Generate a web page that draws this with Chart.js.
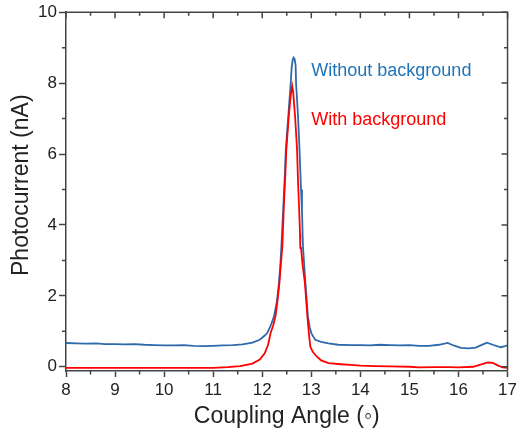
<!DOCTYPE html>
<html>
<head>
<meta charset="utf-8">
<script src="https://cdn.jsdelivr.net/npm/chart.js@4/dist/chart.umd.min.js"></script>
<style>
  html, body { margin: 0; padding: 0; background: #ffffff; }
  canvas { display: block; }
</style>
</head>
<body>
<canvas id="c" width="520" height="431"></canvas>
<script>
// ---- data ----
const blueX = [8.0, 8.2, 8.4, 8.6, 8.8, 9.0, 9.2, 9.4, 9.6, 9.8, 10.0, 10.2, 10.4, 10.6, 10.8, 11.0, 11.2, 11.4, 11.6, 11.8, 11.95, 12.05, 12.10, 12.17, 12.24, 12.30, 12.34, 12.37, 12.39, 12.43, 12.46, 12.48, 12.53, 12.58, 12.60, 12.62, 12.64, 12.66, 12.68, 12.69, 12.73, 12.76, 12.79, 12.81, 12.83, 12.88, 12.93, 12.97, 13.00, 13.04, 13.08, 13.2, 13.35, 13.55, 13.8, 14.0, 14.2, 14.4, 14.6, 14.8, 15.0, 15.2, 15.4, 15.6, 15.78, 15.9, 16.05, 16.2, 16.35, 16.5, 16.58, 16.7, 16.86, 16.95, 17.0];
const blueY = [0.67, 0.66, 0.65, 0.66, 0.64, 0.64, 0.63, 0.64, 0.62, 0.61, 0.60, 0.60, 0.61, 0.59, 0.58, 0.59, 0.60, 0.61, 0.63, 0.68, 0.76, 0.88, 0.95, 1.15, 1.42, 1.85, 2.36, 2.9, 3.39, 4.52, 5.4, 6.11, 7.05, 7.99, 8.45, 8.65, 8.72, 8.68, 8.5, 7.99, 7.05, 6.11, 5.0, 4.4, 3.39, 2.36, 1.42, 1.1, 0.95, 0.85, 0.76, 0.70, 0.66, 0.62, 0.61, 0.61, 0.60, 0.62, 0.61, 0.60, 0.61, 0.59, 0.59, 0.62, 0.67, 0.60, 0.53, 0.52, 0.54, 0.63, 0.68, 0.62, 0.55, 0.58, 0.60];
const redX = [8.0, 8.5, 9.0, 9.5, 10.0, 10.5, 11.0, 11.3, 11.55, 11.8, 11.95, 12.05, 12.12, 12.17, 12.22, 12.27, 12.31, 12.35, 12.38, 12.41, 12.44, 12.47, 12.49, 12.54, 12.58, 12.61, 12.63, 12.67, 12.71, 12.73, 12.75, 12.77, 12.775, 12.79, 12.82, 12.87, 12.92, 12.95, 12.98, 13.03, 13.11, 13.2, 13.35, 13.6, 13.8, 14.0, 14.3, 14.6, 15.0, 15.2, 15.5, 15.8, 16.0, 16.3, 16.45, 16.6, 16.7, 16.8, 16.9, 17.0];
const redY = [-0.03, -0.03, -0.03, -0.03, -0.03, -0.03, -0.03, -0.01, 0.02, 0.09, 0.2, 0.38, 0.62, 0.95, 1.15, 1.42, 1.85, 2.36, 2.9, 3.39, 4.52, 5.4, 6.11, 7.05, 7.65, 7.92, 7.75, 7.05, 6.11, 5.2, 4.52, 3.75, 3.35, 3.35, 2.9, 2.36, 1.42, 0.95, 0.57, 0.42, 0.29, 0.18, 0.10, 0.07, 0.05, 0.03, 0.02, 0.01, 0.0, -0.02, -0.01, -0.01, -0.02, 0.0, 0.06, 0.12, 0.11, 0.04, -0.02, -0.03];

const xTicks = [8, 9, 10, 11, 12, 13, 14, 15, 16, 17];
const xMinor = [8.5, 9.5, 10.5, 11.5, 12.5, 13.5, 14.5, 15.5, 16.5];
const yTicks = [0, 2, 4, 6, 8, 10];
const yMinor = [1, 3, 5, 7, 9];

const seriesNames = ['With background', 'Without background'];
const labelPos = [[13.0, 6.81], [13.0, 8.19]]; // data coords of the text labels

const RED = '#ff0000';
const BLUE = '#2e69ab';
const BLUE_TEXT = '#1f74b9';
const AXIS = '#444444';
const FONT = "'Liberation Sans', Arial, sans-serif";

const toPts = (xs, ys) => xs.map((x, i) => ({ x: x, y: ys[i] }));

const framePlugin = {
  id: 'frame',
  afterDatasetsDraw(chart) {
    const { ctx, chartArea: a, scales: { x, y } } = chart;
    ctx.save();
    ctx.strokeStyle = AXIS;
    ctx.lineWidth = 1.5;
    // top and right frame lines
    ctx.beginPath();
    ctx.moveTo(a.left, a.top); ctx.lineTo(a.right, a.top); ctx.lineTo(a.right, a.bottom);
    ctx.stroke();
    const MAJ = 6, MIN = 3.5;
    ctx.beginPath();
    // top inward ticks
    xTicks.forEach(v => { const p = x.getPixelForValue(v); ctx.moveTo(p, a.top); ctx.lineTo(p, a.top + MAJ); });
    xMinor.forEach(v => { const p = x.getPixelForValue(v); ctx.moveTo(p, a.top); ctx.lineTo(p, a.top + MIN); });
    // right inward ticks
    yTicks.forEach(v => { const p = y.getPixelForValue(v); ctx.moveTo(a.right, p); ctx.lineTo(a.right - MAJ, p); });
    yMinor.forEach(v => { const p = y.getPixelForValue(v); ctx.moveTo(a.right, p); ctx.lineTo(a.right - MIN, p); });
    // bottom & left outward minor ticks
    xMinor.forEach(v => { const p = x.getPixelForValue(v); ctx.moveTo(p, a.bottom); ctx.lineTo(p, a.bottom + MIN); });
    yMinor.forEach(v => { const p = y.getPixelForValue(v); ctx.moveTo(a.left, p); ctx.lineTo(a.left - 4, p); });
    ctx.stroke();
    // series labels
    ctx.font = '18px ' + FONT;
    ctx.textBaseline = 'alphabetic';
    ctx.textAlign = 'left';
    [RED, BLUE_TEXT].forEach((c, i) => {
      ctx.fillStyle = c;
      ctx.fillText(seriesNames[i], x.getPixelForValue(labelPos[i][0]), y.getPixelForValue(labelPos[i][1]));
    });
    ctx.restore();
  }
};

new Chart(document.getElementById('c'), {
  type: 'line',
  data: {
    datasets: [
      { label: seriesNames[0], data: toPts(redX, redY), borderColor: RED, borderWidth: 1.8 },
      { label: seriesNames[1], data: toPts(blueX, blueY), borderColor: BLUE, borderWidth: 1.8 }
    ]
  },
  options: {
    responsive: false,
    animation: false,
    devicePixelRatio: 1,
    layout: { padding: { left: 0, right: 10, top: 11, bottom: 0 } },
    elements: { point: { radius: 0 }, line: { tension: 0, fill: false } },
    plugins: { legend: { display: false }, tooltip: { enabled: false } },
    scales: {
      x: {
        type: 'linear', min: 8, max: 17,
        afterBuildTicks: s => { s.ticks = xTicks.map(v => ({ value: v })); },
        afterFit: s => { s.height = 60; },
        ticks: { font: { family: FONT, size: 17 }, color: '#222', padding: 3, maxRotation: 0, autoSkip: false },
        grid: { display: true, drawOnChartArea: false, drawTicks: true, tickLength: 6, color: AXIS, tickWidth: 1.5 },
        border: { display: true, color: AXIS, width: 1.5 },
        title: { display: true, text: 'Coupling Angle (\u25E6)', font: { family: FONT, size: 23 }, color: '#222', padding: { top: 0, bottom: 1 } }
      },
      y: {
        type: 'linear', min: -0.12, max: 10,
        afterBuildTicks: s => { s.ticks = yTicks.map(v => ({ value: v })); },
        afterFit: s => { s.width = 66; },
        ticks: { font: { family: FONT, size: 17 }, color: '#222', padding: 2 },
        grid: { display: true, drawOnChartArea: false, drawTicks: true, tickLength: 7, color: AXIS, tickWidth: 1.5 },
        border: { display: true, color: AXIS, width: 1.5 },
        title: { display: true, text: '  Photocurrent (nA)', font: { family: FONT, size: 23 }, color: '#222', padding: { top: 8, bottom: 0 } }
      }
    }
  },
  plugins: [framePlugin]
});
</script>
</body>
</html>
